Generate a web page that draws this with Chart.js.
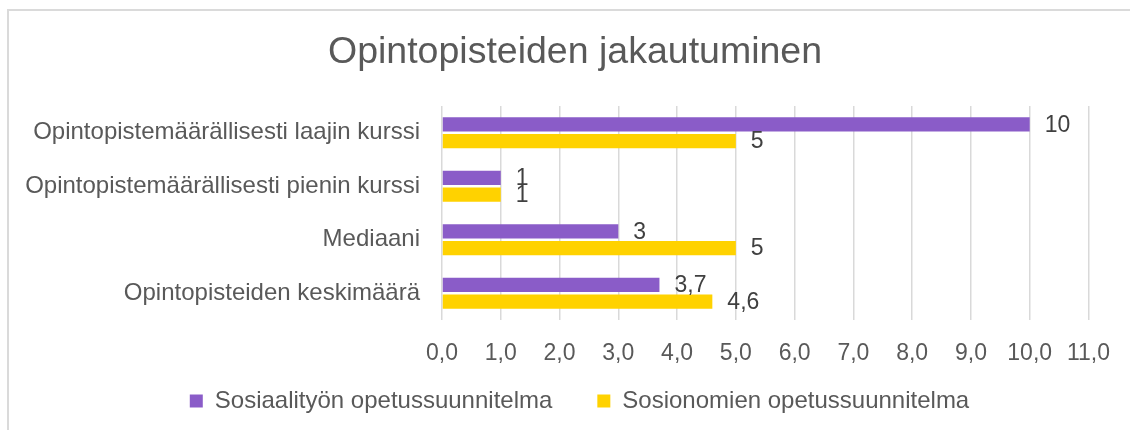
<!DOCTYPE html>
<html>
<head>
<meta charset="utf-8">
<script src="https://cdn.jsdelivr.net/npm/chart.js@4/dist/chart.umd.min.js"></script>
<style>
  body { margin: 0; background: #fff; }
  #frame { position: absolute; left: 7px; top: 9px; width: 1130px; height: 430px;
           border-left: 2px solid #dadada; border-top: 2px solid #dadada; }
  #chart { position: absolute; left: 0; top: 0; }
</style>
</head>
<body>
<div id="frame"></div>
<canvas id="chart" width="1130" height="430"></canvas>
<script>
// kategoriat ylhäältä alas
const categories = [
    "Opintopistemäärällisesti laajin kurssi",
    "Opintopistemäärällisesti pienin kurssi",
    "Mediaani",
    "Opintopisteiden keskimäärä"
];
const sosiaalityo = [10, 1, 3, 3.7];
const sosionomi = [5, 1, 5, 4.6];
const seriesNames = ["Sosiaalityön opetussuunnitelma", "Sosionomien opetussuunnitelma"];
const xTicks = [0, 1, 2, 3, 4, 5, 6, 7, 8, 9, 10, 11];

const FONT = "'Liberation Sans', Arial, sans-serif";

// arvot palkkien perään
const valueLabels = {
    id: 'valueLabels',
    afterDatasetsDraw(chart) {
        const ctx = chart.ctx;
        ctx.save();
        ctx.font = "23px " + FONT;
        ctx.fillStyle = '#404040';
        ctx.textAlign = 'left';
        ctx.textBaseline = 'middle';
        chart.data.datasets.forEach((ds, i) => {
            const meta = chart.getDatasetMeta(i);
            meta.data.forEach((bar, j) => {
                let txt = String(ds.data[j]).replace('.', ',');
                ctx.fillText(txt, bar.x + 15, bar.y + 1);
            });
        });
        ctx.restore();
    }
};

// otsikko ja selite hieman oikealle, selite ylemmäs
const nudge = {
    id: 'nudge',
    afterLayout(chart) {
        chart.titleBlock.left += 50;
        chart.legend.left += 59;
        chart.legend.top -= 20;
    }
};

var ctx = document.getElementById('chart').getContext('2d');
var chart = new Chart(ctx, {
    type: 'bar',
    data: {
        labels: categories,
        datasets: [
            {
                label: seriesNames[0],
                data: sosiaalityo,
                backgroundColor: '#8a5cc8',
                categoryPercentage: 0.62,
                barPercentage: 0.86
            },
            {
                label: seriesNames[1],
                data: sosionomi,
                backgroundColor: '#ffd200',
                categoryPercentage: 0.62,
                barPercentage: 0.86
            }
        ]
    },
    options: {
        indexAxis: 'y',
        responsive: false,
        animation: false,
        layout: { padding: { left: 10, right: 40, top: 0, bottom: 0 } },
        plugins: {
            title: {
                display: true,
                text: 'Opintopisteiden jakautuminen',
                color: '#595959',
                font: { family: FONT, size: 37.5, weight: 'normal' },
                padding: { top: 30, bottom: 31 }
            },
            legend: {
                position: 'bottom',
                maxHeight: 66,
                labels: {
                    color: '#595959',
                    font: { family: FONT, size: 24 },
                    boxWidth: 13,
                    boxHeight: 13,
                    padding: 45
                }
            },
            tooltip: { enabled: false }
        },
        scales: {
            x: {
                min: 0,
                max: 11,
                afterBuildTicks: (scale) => { scale.ticks = xTicks.map(v => ({ value: v })); },
                afterFit: (scale) => { scale.height = 44; },
                ticks: {
                    color: '#595959',
                    font: { family: FONT, size: 23 },
                    padding: 20,
                    callback: (v) => v.toFixed(1).replace('.', ',')
                },
                grid: { color: '#d9d9d9', lineWidth: 1.5, drawTicks: false },
                border: { display: false }
            },
            y: {
                afterFit: (scale) => { scale.width = 442 - 10; },
                ticks: {
                    color: '#595959',
                    font: { family: FONT, size: 24 },
                    padding: 22
                },
                grid: { display: false, drawTicks: false },
                border: { display: false }
            }
        }
    },
    plugins: [valueLabels, nudge]
});
</script>
</body>
</html>
